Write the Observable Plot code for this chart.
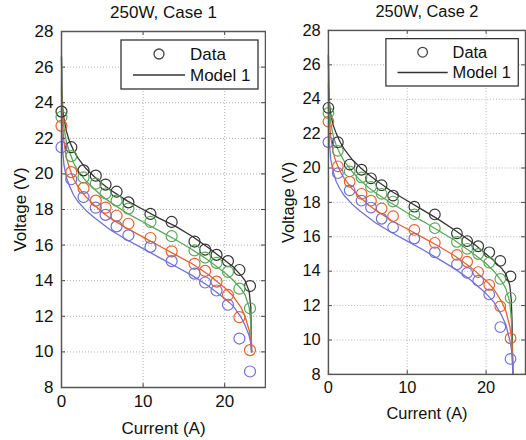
<!DOCTYPE html>
<html><head><meta charset="utf-8">
<script src="https://cdn.jsdelivr.net/npm/d3@7"></script>
<script src="https://cdn.jsdelivr.net/npm/@observablehq/plot@0.6"></script>
<style>
body{margin:0;background:#fff;}
#wrap{position:relative;width:526px;height:440px;overflow:hidden;background:#fff;}
#wrap > div{position:absolute;top:0;}
</style></head><body><div id="wrap"><div id="p1"></div><div id="p2"></div></div>
<script>
// ---- data ----
const titles = ["250W, Case 1", "250W, Case 2"];
const seriesNames = ["S1", "S2", "S3", "S4"];
const seriesColors = ["#333333", "#58a858", "#e8602c", "#7070d6"];
const legendLabels = ["Data", "Model 1"];
const xTicks = [0, 10, 20];
const yTicks = [8, 10, 12, 14, 16, 18, 20, 22, 24, 26, 28];

// measured data (same in both cases)
const dataCurrent = [0, 1.2, 2.7, 4.2, 5.4, 6.75, 8.2, 10.9, 13.5, 16.3, 17.6, 19.0, 20.4, 21.8, 23.1];
const dataS1 = [23.5, 21.5, 20.2, 19.9, 19.4, 19.0, 18.4, 17.75, 17.3, 16.2, 15.75, 15.45, 15.1, 14.6, 13.7];
const dataS2 = [23.2, 21.0, 19.8, 19.45, 18.9, 18.5, 18.05, 17.3, 16.5, 15.7, 15.3, 15.0, 14.5, 13.55, 12.45];
const dataS3 = [22.7, 20.1, 19.2, 18.5, 18.1, 17.65, 17.2, 16.4, 15.65, 14.95, 14.55, 13.95, 13.2, 11.95, 10.1];
const dataS4 = [21.5, 19.7, 18.7, 18.1, 17.7, 17.05, 16.55, 15.9, 15.1, 14.4, 13.9, 13.45, 12.65, 10.75, 8.9];

// model, case 1
const model1Current = [0, 0.05, 0.15, 0.3, 0.6, 1, 1.5, 2, 3, 4, 5, 6, 8, 10, 12, 14, 16, 18, 20, 21, 22, 22.5, 23, 23.2, 23.3];
const model1S1 = [26.6, 24.8, 23.7, 23.1, 22.4, 21.8, 21.3, 20.9, 20.3, 19.85, 19.45, 19.1, 18.5, 18.0, 17.5, 17.05, 16.5, 15.85, 15.15, 14.8, 14.3, 14.0, 13.4, 12.5, 10.0];
const model1S2 = [26.5, 24.4, 23.3, 22.6, 21.8, 21.2, 20.6, 20.2, 19.6, 19.15, 18.75, 18.4, 17.8, 17.3, 16.8, 16.3, 15.75, 15.15, 14.45, 14.05, 13.55, 13.2, 12.5, 11.7, 10.0];
const model1S3 = [24.9, 23.5, 22.6, 21.8, 20.9, 20.3, 19.7, 19.3, 18.7, 18.25, 17.85, 17.5, 16.95, 16.45, 15.95, 15.45, 14.95, 14.35, 13.6, 13.15, 12.5, 12.0, 11.2, 10.6, 10.0];
const model1S4 = [23.8, 22.3, 21.3, 20.5, 19.8, 19.3, 18.8, 18.45, 17.95, 17.55, 17.2, 16.85, 16.3, 15.8, 15.3, 14.8, 14.3, 13.7, 13.0, 12.6, 11.95, 11.5, 10.9, 10.5, 10.0];

// model, case 2
const model2Current = [0, 0.05, 0.15, 0.3, 0.6, 1, 1.5, 2, 3, 4, 5, 6, 8, 10, 12, 14, 16, 18, 20, 21, 22, 22.5, 23, 23.2, 23.3, 23.4];
const model2S1 = [26.6, 24.8, 23.7, 23.1, 22.5, 22.0, 21.5, 21.1, 20.5, 20.05, 19.65, 19.3, 18.65, 18.1, 17.55, 17.0, 16.4, 15.75, 15.0, 14.6, 14.15, 13.85, 13.2, 12.3, 11.0, 8.0];
const model2S2 = [26.5, 24.4, 23.3, 22.6, 21.9, 21.3, 20.8, 20.4, 19.8, 19.3, 18.9, 18.55, 17.95, 17.4, 16.9, 16.35, 15.8, 15.15, 14.45, 14.0, 13.4, 13.0, 12.2, 11.2, 9.8, 8.0];
const model2S3 = [24.9, 23.5, 22.6, 21.8, 20.9, 20.3, 19.8, 19.4, 18.8, 18.3, 17.9, 17.55, 16.95, 16.45, 15.95, 15.45, 14.9, 14.25, 13.45, 12.95, 12.2, 11.7, 10.8, 10.2, 9.5, 8.0];
const model2S4 = [23.8, 22.3, 21.3, 20.5, 19.8, 19.2, 18.75, 18.4, 17.9, 17.5, 17.15, 16.8, 16.25, 15.75, 15.25, 14.7, 14.15, 13.5, 12.7, 12.2, 11.4, 10.9, 10.0, 9.5, 9.0, 8.0];

// ---- build tables ----
const dataSeries = [dataS1, dataS2, dataS3, dataS4];
const points = seriesNames.flatMap((s, k) => dataCurrent.map((x, i) => ({series: s, x, y: dataSeries[k][i]})));
function modelRows(xs, arrs) {
  return seriesNames.flatMap((s, k) => xs.map((x, i) => ({series: s, x, y: arrs[k][i]})));
}
const models = [
  modelRows(model1Current, [model1S1, model1S2, model1S3, model1S4]),
  modelRows(model2Current, [model2S1, model2S2, model2S3, model2S4])
];

const FONT = "Liberation Sans, Arial, Helvetica, sans-serif";
const FS = 17;
const W = 266, ML = 61, MR = 1, MT = 31, MB = 53;

function panel(idx) {
  const svgEl = Plot.plot({
    width: W, height: 440,
    marginLeft: ML, marginRight: MR, marginTop: MT, marginBottom: MB,
    style: {fontFamily: FONT, fontSize: FS + "px", color: "#111", background: "transparent"},
    x: {domain: [0, 25]},
    y: {domain: [8, 28]},
    color: {domain: seriesNames, range: seriesColors},
    marks: [
      Plot.gridX(xTicks.slice(1), {stroke: "#9a9a9a", strokeOpacity: 1, strokeDasharray: "1,2", strokeWidth: 0.8}),
      Plot.gridY(yTicks.slice(1, -1), {stroke: "#9a9a9a", strokeOpacity: 1, strokeDasharray: "1,2", strokeWidth: 0.8}),
      Plot.line(models[idx], {x: "x", y: "y", z: "series", stroke: "series", strokeWidth: 1.3}),
      Plot.dot(points, {x: "x", y: "y", stroke: "series", r: 5.5, strokeWidth: 1.2, fill: "none"}),
      Plot.ruleY(yTicks, {x1: 0, x2: 0.5, stroke: "#444", strokeWidth: 1}),
      Plot.ruleY(yTicks, {x1: 24.5, x2: 25, stroke: "#444", strokeWidth: 1}),
      Plot.ruleX(xTicks, {y1: 8, y2: 8.22, stroke: "#444", strokeWidth: 1}),
      Plot.ruleX(xTicks, {y1: 27.78, y2: 28, stroke: "#444", strokeWidth: 1}),
      Plot.frame({stroke: "#555", strokeWidth: 1.5}),
      Plot.axisX(xTicks, {tickSize: 0, tickPadding: 7, fontSize: FS, label: "Current (A)", labelAnchor: "center", labelArrow: "none", labelOffset: 46, fill: "#111"}),
      Plot.axisY(yTicks, {tickSize: 0, tickPadding: 8, fontSize: FS, label: "Voltage (V)", labelAnchor: "center", labelArrow: "none", labelOffset: 48, fill: "#111"}),
      Plot.text([titles[idx]], {frameAnchor: "top", dy: -26, fontSize: FS, fill: "#111"})
    ]
  });
  // legend box (top-right inside frame)
  const svg = d3.select(svgEl);
  const R = W - MR;
  const g = svg.append("g").attr("font-family", FONT).attr("font-size", FS).attr("fill", "#111");
  g.append("rect").attr("x", R - 144).attr("y", 40).attr("width", 137).attr("height", 49)
    .attr("fill", "#fff").attr("stroke", "#333").attr("stroke-width", 1.3);
  g.append("circle").attr("cx", R - 106).attr("cy", 54).attr("r", 5).attr("fill", "none").attr("stroke", "#444").attr("stroke-width", 1.3);
  g.append("text").attr("x", R - 75).attr("y", 54).attr("dy", "0.35em").style("text-anchor", "start").text(legendLabels[0]);
  g.append("line").attr("x1", R - 132).attr("x2", R - 80).attr("y1", 75).attr("y2", 75).attr("stroke", "#333").attr("stroke-width", 1.5);
  g.append("text").attr("x", R - 75).attr("y", 75).attr("dy", "0.35em").style("text-anchor", "start").text(legendLabels[1]);
  return svgEl;
}

const p1 = document.getElementById("p1");
const p2 = document.getElementById("p2");
p1.style.left = "0px";
p2.style.left = "269px";
p1.appendChild(panel(0));
p2.appendChild(panel(1));
</script>
</body></html>
